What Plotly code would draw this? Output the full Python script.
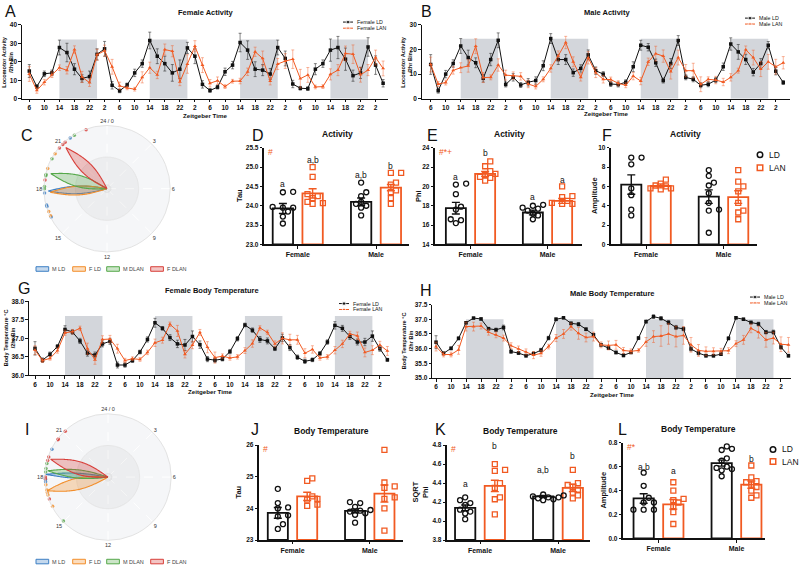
import numpy as np
import plotly.graph_objects as go

W, H = 800, 569
FONT = "Arial, 'Liberation Sans', Helvetica, sans-serif"
INK = "#111111"
ORANGE = "#f15a22"
ORANGE_ERR = "rgba(241,90,34,0.55)"
INK_ERR = "rgba(40,40,40,0.7)"
NIGHT = "#d3d6db"

# ---------------- time-series data (2-h bins, continuous ZT hours) ----------------
ZT = list(range(6, 101, 2))
ZT_TICKS = list(range(6, 99, 4))
ZT_LABELS = [str(t % 24) for t in ZT_TICKS]
DARK_ON = [14, 38, 62, 86]
DARK_OFF = [24, 48, 72, 96]

A_LD = [15, 6.6, 13.5, 14, 27.7, 25, 16, 11, 12, 24,
        27, 7.3, 4.3, 7.5, 14, 19, 31.5, 23, 19, 14,
        16, 27.5, 23, 7.8, 4.5, 6.3, 14.6, 18.2, 30.4, 26.3,
        16, 15.5, 13.4, 27.7, 21.8, 8, 5.7, 5.5, 16, 19,
        26.3, 27.7, 21.4, 12.5, 14, 28, 18.2, 8.4]
A_LD_ERR = [3.5, 1, 1.5, 1.5, 4, 5, 3, 2, 3, 3, 4, 2, 1, 1, 2, 2, 4.5, 4, 4, 4.5,
            5, 3, 4, 2, 1, 1, 2, 2, 5, 5, 4, 3, 3, 4, 4, 2, 1, 1, 3, 2,
            6, 6, 6, 3, 3, 5, 5, 2]
A_LAN = [13.4, 4.5, 9, 13, 16.8, 15.4, 26.6, 11.8, 8.7, 23.8,
         26, 17.3, 7, 5.9, 5.2, 11.6, 16.8, 12.9, 26.6, 25.7,
         9.1, 18.8, 28.4, 18.2, 8.4, 9.8, 6.6, 9.5, 9.6, 14.6,
         25.4, 21.8, 9.5, 18.8, 20.4, 21.4, 10.9, 12.9, 6.4, 6.6,
         13.2, 15.5, 24.5, 24.1, 13, 15.5, 22.3, 16.4]
A_LAN_ERR = [4, 1.5, 1.5, 1.5, 1.5, 2, 2, 3, 2, 3, 3, 4, 2, 1, 1, 3, 3, 2, 3, 3,
             2, 5, 3, 4, 2, 2, 1, 1, 1.5, 2, 2.5, 4, 2, 3, 4, 5, 5, 4, 1, 1,
             3, 3, 4, 5, 4, 3, 4, 4]

B_LD = [13.9, 3.3, 10, 14.3, 21.4, 16.7, 14.6, 8.3, 15.9, 23.7,
        5.8, 8.7, 5.6, 6.7, 7.4, 13.4, 24.4, 15.9, 15.9, 10.6,
        12.3, 17.8, 11.4, 10, 6, 5.8, 6.7, 13, 21.7, 20.9,
        14.6, 7.4, 14.3, 23.6, 8.7, 7.9, 5.5, 5.9, 7.6, 13,
        22.2, 19, 15.9, 10.8, 14.3, 21.7, 11.2, 6.6]
B_LD_ERR = [4, 1, 1.5, 1.5, 3, 3, 2, 1.5, 2.5, 3, 1, 1.5, 1, 1.5, 1.5, 2, 2, 2, 2, 1.5,
            1.5, 2, 1.5, 1, 1, 1, 1, 2, 2, 1.5, 1.5, 1, 2, 2, 1, 1, 1, 1, 1, 1.5,
            2.5, 3, 2, 1.5, 2, 1.5, 1.5, 0.8]
B_LAN = [13.9, 6, 6.6, 11.5, 12.6, 13.3, 21.3, 8.6, 8.7, 13.7,
         9.6, 9.4, 9.1, 6, 5, 7.9, 12.3, 17.4, 22.8, 15,
         8.7, 16.6, 10.6, 7.9, 7.8, 6.3, 5.5, 9.2, 7.2, 15,
         18.3, 17.3, 11, 16.7, 11.4, 11.4, 5.9, 7.9, 7.6, 6.8,
         8.7, 11.4, 19.9, 16.7, 12, 15, 13, 14.6]
B_LAN_ERR = [3, 1, 1, 1.5, 2, 2.5, 3, 2, 1, 2.5, 2, 1.5, 1.5, 1.5, 1, 1, 1.5, 2, 2.5, 2,
             1.5, 2.5, 2, 1.5, 1, 1, 1, 1.5, 1.5, 1.5, 3, 2.5, 3, 3, 2.5, 3, 3, 1, 1.5, 1.5,
             1.5, 1, 1.5, 3, 3, 3, 3, 2.5]

G_LD = [36.73, 36.41, 36.57, 36.78, 37.24, 37.17, 36.93, 36.6, 36.55, 36.85,
        36.92, 36.28, 36.28, 36.4, 36.63, 36.97, 37.42, 37.27, 37.02, 36.85,
        36.82, 37.05, 36.83, 36.44, 36.41, 36.44, 36.64, 36.99, 37.36, 37.22,
        36.97, 36.93, 36.72, 37.01, 36.75, 36.49, 36.38, 36.42, 36.59, 36.9,
        37.35, 37.27, 37.05, 36.9, 36.9, 37.06, 36.72, 36.42]
G_LD_ERR = [0.18, 0.06, 0.06, 0.05, 0.1, 0.06, 0.07, 0.08, 0.08, 0.08,
            0.08, 0.08, 0.06, 0.05, 0.05, 0.07, 0.12, 0.05, 0.08, 0.1,
            0.15, 0.15, 0.1, 0.07, 0.06, 0.05, 0.06, 0.06, 0.05, 0.06,
            0.08, 0.08, 0.05, 0.1, 0.08, 0.06, 0.06, 0.05, 0.05, 0.06,
            0.1, 0.08, 0.08, 0.08, 0.1, 0.14, 0.07, 0.04]
G_LAN = [36.68, 36.4, 36.46, 36.67, 37.15, 37.18, 37.27, 36.72, 36.42, 36.97,
         36.98, 36.72, 36.4, 36.45, 36.43, 36.62, 36.88, 36.95, 37.38, 37.2,
         36.57, 36.82, 37.16, 36.76, 36.48, 36.52, 36.47, 36.5, 36.67, 36.86,
         37.28, 37.16, 36.85, 37.0, 36.96, 36.96, 36.6, 36.7, 36.47, 36.5,
         36.68, 36.85, 37.12, 37.07, 36.62, 36.68, 36.82, 36.66]
G_LAN_ERR = [0.12, 0.05, 0.05, 0.07, 0.07, 0.06, 0.06, 0.15, 0.12, 0.1,
             0.1, 0.12, 0.06, 0.05, 0.05, 0.06, 0.1, 0.08, 0.06, 0.15,
             0.1, 0.1, 0.08, 0.15, 0.15, 0.06, 0.06, 0.06, 0.08, 0.1,
             0.06, 0.06, 0.08, 0.15, 0.15, 0.12, 0.12, 0.1, 0.06, 0.06,
             0.1, 0.1, 0.07, 0.1, 0.12, 0.12, 0.1, 0.12]

H_LD = [36.22, 35.84, 36.01, 36.35, 36.88, 37.04, 37.01, 36.68, 36.64, 36.72,
        35.9, 35.85, 35.76, 35.83, 35.95, 36.36, 37.0, 37.05, 36.86, 36.83,
        36.66, 36.47, 36.13, 36.02, 35.87, 35.77, 35.87, 36.36, 36.92, 37.09,
        37.03, 36.89, 36.72, 36.67, 35.99, 35.85, 35.76, 35.76, 35.81, 36.35,
        37.05, 37.0, 36.89, 36.84, 36.56, 36.56, 36.05, 35.76]
H_LD_ERR = [0.22, 0.05, 0.05, 0.05, 0.04, 0.03, 0.04, 0.04, 0.06, 0.08,
            0.06, 0.05, 0.05, 0.06, 0.06, 0.06, 0.05, 0.04, 0.05, 0.06,
            0.05, 0.05, 0.05, 0.05, 0.05, 0.05, 0.04, 0.05, 0.05, 0.06,
            0.06, 0.07, 0.07, 0.06, 0.07, 0.06, 0.05, 0.05, 0.04, 0.05,
            0.04, 0.04, 0.05, 0.06, 0.06, 0.07, 0.07, 0.05]
H_LAN = [36.07, 35.8, 35.8, 35.96, 36.75, 36.75, 36.77, 36.56, 36.47, 36.36,
         36.1, 35.99, 35.89, 35.78, 35.84, 36.07, 36.36, 36.5, 36.75, 36.52,
         36.38, 36.41, 36.13, 36.11, 36.13, 35.94, 35.91, 35.94, 36.23, 36.41,
         36.43, 36.5, 36.41, 36.45, 36.13, 35.94, 35.91, 35.91, 35.91, 35.93,
         36.17, 36.3, 36.69, 36.56, 36.3, 36.36, 36.15, 36.13]
H_LAN_ERR = [0.15, 0.08, 0.08, 0.15, 0.15, 0.15, 0.1, 0.1, 0.1, 0.1,
             0.1, 0.1, 0.1, 0.12, 0.1, 0.08, 0.12, 0.15, 0.12, 0.2,
             0.15, 0.15, 0.1, 0.15, 0.15, 0.1, 0.08, 0.06, 0.15, 0.2,
             0.35, 0.35, 0.35, 0.3, 0.25, 0.2, 0.15, 0.12, 0.1, 0.1,
             0.1, 0.15, 0.15, 0.2, 0.25, 0.2, 0.25, 0.25]

# ---------------- bar-panel data: [Female, Male] ----------------
SEXES = ["Female", "Male"]

D_LD_MEAN, D_LD_SEM = [23.93, 24.10], [0.13, 0.10]
D_LAN_MEAN, D_LAN_SEM = [24.32, 24.47], [0.12, 0.08]
D_F_LD = [24.35, 24.36, 23.97, 23.95, 23.85, 23.72, 23.54, 23.95]
D_F_LAN = [25.0, 24.75, 24.3, 24.25, 24.2, 24.1, 24.07, 24.05]
D_M_LD = [24.6, 24.35, 24.25, 24.1, 24.05, 24.0, 23.95, 23.75]
D_M_LAN = [24.85, 24.85, 24.6, 24.55, 24.4, 24.35, 24.2, 24.05]
D_LETTERS = ["a", "a,b", "a,b", "b"]

E_LD_MEAN, E_LD_SEM = [17.75, 17.3], [0.6, 0.25]
E_LAN_MEAN, E_LAN_SEM = [21.3, 18.5], [0.25, 0.25]
E_F_LD = [20.3, 20.2, 19.2, 17.9, 17.6, 16.6, 16.5, 16.2]
E_F_LAN = [22.6, 22.1, 21.6, 21.3, 21.2, 21.0, 20.9, 20.6]
E_M_LD = [18.1, 18.0, 17.8, 17.7, 17.5, 17.2, 17.0, 16.6]
E_M_LAN = [20.0, 19.0, 18.9, 18.5, 18.3, 18.3, 18.2, 18.2]
E_LETTERS = ["a", "b", "a", "a"]

F_LD_MEAN, F_LD_SEM = [6.2, 4.95], [1.0, 0.7]
F_LAN_MEAN, F_LAN_SEM = [6.05, 4.9], [0.2, 0.65]
F_F_LD = [9.0, 9.0, 8.3, 5.8, 5.1, 3.6, 3.0]
F_F_LAN = [6.7, 6.3, 6.1, 6.0, 5.8, 5.8, 5.7]
F_M_LD = [7.7, 7.1, 6.4, 6.1, 5.3, 4.3, 3.6, 3.5, 1.2]
F_M_LAN = [7.7, 6.5, 6.0, 5.5, 4.3, 3.5, 3.3, 2.6]

J_LD_MEAN, J_LD_SEM = [23.86, 23.92], [0.17, 0.06]
J_LAN_MEAN, J_LAN_SEM = [24.38, 24.47], [0.13, 0.27]
J_F_LD = [24.62, 24.17, 24.03, 24.0, 23.78, 23.75, 23.5, 23.35]
J_F_LAN = [24.95, 24.87, 24.38, 24.3, 24.28, 24.12, 24.08]
J_M_LD = [24.2, 24.17, 24.05, 23.95, 23.93, 23.9, 23.85, 23.8, 23.55]
J_M_LAN = [25.85, 24.82, 24.7, 24.65, 24.35, 24.3, 24.0, 23.3]

K_LD_MEAN, K_LD_SEM = [4.14, 4.26], [0.03, 0.01]
K_LAN_MEAN, K_LAN_SEM = [4.37, 4.35], [0.06, 0.04]
K_F_LD = [4.25, 4.22, 4.19, 4.17, 4.12, 4.1, 4.08, 4.02]
K_F_LAN = [4.6, 4.54, 4.53, 4.4, 4.35, 4.25, 4.23, 4.07]
K_M_LD = [4.28, 4.27, 4.26, 4.25, 4.25, 4.24, 4.23, 4.22]
K_M_LAN = [4.54, 4.40, 4.38, 4.36, 4.33, 4.30, 4.27, 4.24]
K_LETTERS = ["a", "b", "a,b", "b"]

L_LD_MEAN, L_LD_SEM = [0.334, 0.63], [0.04, 0.025]
L_LAN_MEAN, L_LAN_SEM = [0.285, 0.45], [0.04, 0.03]
L_F_LD = [0.55, 0.44, 0.34, 0.3, 0.3, 0.24, 0.24, 0.24]
L_F_LAN = [0.47, 0.4, 0.33, 0.32, 0.3, 0.27, 0.22, 0.12]
L_M_LD = [0.77, 0.75, 0.74, 0.67, 0.65, 0.6, 0.59, 0.58, 0.57, 0.52]
L_M_LAN = [0.61, 0.51, 0.48, 0.47, 0.45, 0.43, 0.4, 0.36, 0.34]
L_LETTERS = ["a,b", "a", "c", "b"]

# ---------------- circular phase data (hours) ----------------
GROUPS = ["M LD", "F LD", "M DLAN", "F DLAN"]
C_PHASE = [17.85, 17.76, 19.0, 21.0]
C_LENGTH = [0.93, 0.90, 0.92, 0.92]
C_SPREAD = [0.06, 0.07, 0.09, 0.09]
C_DOTS = [[21.6, 17.74, 17.0, 16.9, 16.2],
          [20.27, 19.25, 16.57, 16.3],
          [21.9, 19.9, 18.88, 18.8, 18.14, 18.0],
          [22.7, 21.2, 21.0, 20.7, 18.54]]
I_PHASE = [18.17, 17.16, 18.4, 19.15]
I_LENGTH = [0.99, 0.99, 0.96, 0.95]
I_SPREAD = [0.04, 0.09, 0.065, 0.10]
I_DOTS = [[19.76, 17.85, 17.72],
          [17.53, 17.2, 17.05, 16.9, 16.15],
          [18.83, 18.53, 18.31, 15.03],
          [21.13, 20.5, 20.45, 19.25, 19.03, 18.0, 17.9, 16.63]]
CLOCK_TICKS = [0, 3, 6, 9, 12, 15, 18, 21]
CLOCK_LABELS = ["24 / 0", "3", "6", "9", "12", "15", "18", "21"]

G_LINE = ["#3d7fc4", "#f28e2b", "#55a84a", "#d83f3a"]
G_FILL = ["rgba(61,127,196,0.30)", "rgba(242,142,43,0.30)",
          "rgba(85,168,74,0.30)", "rgba(216,63,58,0.30)"]


# ---------------- helpers ----------------
def fx(px):
    return px / W


def fy(py):
    return 1 - py / H


def sfx(n):
    return "" if n == 1 else str(n)


fig = go.Figure()
layout = {}
annotations = []
shapes = []

TICKFONT = dict(family=FONT, size=6.5, color=INK, weight="bold")


def base_axis():
    return dict(showline=True, linecolor=INK, linewidth=1.2, ticks="outside",
                ticklen=2.5, tickwidth=1, tickcolor=INK, showgrid=False,
                zeroline=False, tickfont=TICKFONT, fixedrange=True)


def text(x, y, s, size=7, bold=False, color=INK, xanchor="center", yanchor="middle",
         angle=0, xref="paper", yref="paper"):
    if xref == "paper":
        x = fx(x)
    if yref == "paper":
        y = fy(y)
    annotations.append(dict(x=x, y=y, xref=xref, yref=yref, text=("<b>%s</b>" % s) if bold else s,
                            showarrow=False, xanchor=xanchor, yanchor=yanchor, textangle=angle,
                            borderpad=0,
                            font=dict(family=FONT, size=size, color=color)))


# overlay axis in pixel units for legend glyphs
layout["xaxis20"] = dict(domain=[0, 1], range=[0, W], visible=False, fixedrange=True, anchor="y20")
layout["yaxis20"] = dict(domain=[0, 1], range=[H, 0], visible=False, fixedrange=True, anchor="x20")


def legend_glyph(x, y, color, symbol, size, line=True, lw=1.5):
    if line:
        fig.add_trace(go.Scatter(x=[x - 5, x, x + 5], y=[y, y, y], mode="lines+markers",
                                 line=dict(color=color, width=1),
                                 marker=dict(symbol=symbol, size=[0, size, 0], color=color),
                                 xaxis="x20", yaxis="y20", showlegend=False, hoverinfo="skip",
                                 cliponaxis=False))
    else:
        fig.add_trace(go.Scatter(x=[x], y=[y], mode="markers",
                                 marker=dict(symbol=symbol, size=size, color=color,
                                             line=dict(color=color, width=lw)),
                                 xaxis="x20", yaxis="y20", showlegend=False, hoverinfo="skip",
                                 cliponaxis=False))


# ---------------- time-series panels ----------------
def ts_panel(n, xdom, ydom, xr, yr, ytv, yfmt, ld, ld_err, lan, lan_err, night_top,
             title, title_xy, ytitle, ytitle_x, xtitle_y, leg, leg_labels, letter, letter_xy):
    xa = dict(base_axis(), domain=[fx(xdom[0]), fx(xdom[1])], range=xr, anchor="y" + sfx(n),
              tickmode="array", tickvals=ZT_TICKS, ticktext=ZT_LABELS)
    ya = dict(base_axis(), domain=[fy(ydom[1]), fy(ydom[0])], range=yr, anchor="x" + sfx(n),
              tickmode="array", tickvals=ytv)
    if yfmt:
        ya["tickformat"] = yfmt
    layout["xaxis" + sfx(n)] = xa
    layout["yaxis" + sfx(n)] = ya
    for on, off in zip(DARK_ON, DARK_OFF):
        shapes.append(dict(type="rect", xref="x" + sfx(n), yref="y" + sfx(n), x0=on, x1=off,
                           y0=yr[0], y1=night_top, fillcolor=NIGHT, line=dict(width=0),
                           layer="below"))
    fig.add_trace(go.Scatter(x=ZT, y=ld, mode="lines+markers", line=dict(color=INK, width=1),
                             marker=dict(symbol="square", size=3.5, color=INK),
                             error_y=dict(type="data", array=ld_err, color=INK_ERR,
                                          thickness=0.8, width=1.5),
                             xaxis="x" + sfx(n), yaxis="y" + sfx(n), showlegend=False,
                             cliponaxis=False))
    fig.add_trace(go.Scatter(x=ZT, y=lan, mode="lines+markers", line=dict(color=ORANGE, width=1),
                             marker=dict(symbol="triangle-up", size=3.5, color=ORANGE),
                             error_y=dict(type="data", array=lan_err, color=ORANGE_ERR,
                                          thickness=0.8, width=1.5),
                             xaxis="x" + sfx(n), yaxis="y" + sfx(n), showlegend=False,
                             cliponaxis=False))
    text(title_xy[0], title_xy[1], title, size=7.5, bold=True)
    text(ytitle_x, (ydom[0] + ydom[1]) / 2, ytitle, size=5.6, bold=True, angle=-90)
    text((xdom[0] + xdom[1]) / 2, xtitle_y, "Zeitgeber Time", size=6.2, bold=True)
    lx, ly1, ly2 = leg
    legend_glyph(lx, ly1, INK, "square", 3.5)
    legend_glyph(lx, ly2, ORANGE, "triangle-up", 4)
    text(lx + 8, ly1, leg_labels[0], size=5.3, xanchor="left")
    text(lx + 8, ly2, leg_labels[1], size=5.3, xanchor="left")
    text(letter_xy[0], letter_xy[1], letter, size=16)


ts_panel(1, [22, 388], [21, 96], [4.06, 101.3], [0, 40], [0, 10, 20, 30, 40], None,
         A_LD, A_LD_ERR, A_LAN, A_LAN_ERR, 32, "Female Activity", (206, 9),
         "Locomotor Activity<br>/2hr Bin", 8, 112.5, (348, 18.3, 24.5),
         ["Female LD", "Female LAN"], "A", (10, 8))
ts_panel(2, [421.7, 790], [21, 96], [3.6, 101.8], [0, 30], [0, 10, 20, 30], None,
         B_LD, B_LD_ERR, B_LAN, B_LAN_ERR, 24.3, "Male Activity", (607, 9),
         "Locomotor Activity<br>/2hr Bin", 407, 111, (750, 14.3, 20.3),
         ["Male LD", "Male LAN"], "B", (427, 8))
ts_panel(6, [29, 390], [301, 376], [4.4, 100.7], [36, 38], [36, 36.5, 37, 37.5, 38], ".1f",
         G_LD, G_LD_ERR, G_LAN, G_LAN_ERR, 37.6, "Female Body Temperature", (212, 290),
         "Body Temperature °C<br>/2hr Bin", 9, 392.5, (344, 303.3, 309.3),
         ["Female LD", "Female LAN"], "G", (24, 288.5))
ts_panel(7, [432.3, 790.7], [304.3, 378.7], [5.0, 100.6], [35, 37.5],
         [35, 35.5, 36, 36.5, 37, 37.5], ".1f",
         H_LD, H_LD_ERR, H_LAN, H_LAN_ERR, 37.0, "Male Body Temperature", (612, 293),
         "Body Temperature °C<br>/2hr Bin", 407, 395.5, (755, 296.7, 302.7),
         ["Male LD", "Male LAN"], "H", (426, 290))


# ---------------- bar panels ----------------
OFF = 0.19
BW = 0.26


def swarm_offsets(vals, px_per_val, px_per_x, diam=5.4):
    order = sorted(range(len(vals)), key=lambda i: vals[i])
    placed = []
    offs = [0.0] * len(vals)
    for i in order:
        chosen = 0.0
        for k in [0, 1, -1, 2, -2, 3, -3, 4, -4]:
            o = k * diam * 0.95
            ok = True
            for (po, pv) in placed:
                if (o - po) ** 2 + ((vals[i] - pv) * px_per_val) ** 2 < diam ** 2:
                    ok = False
                    break
            if ok:
                chosen = o
                break
        offs[i] = chosen
        placed.append((chosen, vals[i]))
    return [o / px_per_x for o in offs]


def bar_panel(n, xdom, center, unit, ydom, yr, ytv, yfmt, ld_mean, ld_sem, lan_mean, lan_sem,
              pts, letters, letter_y, mark, title, title_x, ytitle, ytitle_x, letter, letter_xy):
    xr = [(xdom[0] - center) / unit, (xdom[1] - center) / unit]
    xa = dict(base_axis(), domain=[fx(xdom[0]), fx(xdom[1])], range=xr, anchor="y" + sfx(n),
              tickmode="array", tickvals=[0, 1], ticktext=SEXES,
              tickfont=dict(family=FONT, size=7, color=INK, weight="bold"), linewidth=1.5)
    ya = dict(base_axis(), domain=[fy(ydom[1]), fy(ydom[0])], range=yr, anchor="x" + sfx(n),
              tickmode="array", tickvals=ytv, linewidth=1.5)
    if yfmt:
        ya["tickformat"] = yfmt
    layout["xaxis" + sfx(n)] = xa
    layout["yaxis" + sfx(n)] = ya
    xs = "x" + sfx(n)
    ys = "y" + sfx(n)
    ld_x = [0 - OFF, 1 - OFF]
    lan_x = [0 + OFF, 1 + OFF]
    base = [yr[0], yr[0]]
    fig.add_trace(go.Bar(x=ld_x, y=[m - yr[0] for m in ld_mean], base=base, width=BW,
                         marker=dict(color="white", line=dict(color=INK, width=1.8)),
                         error_y=dict(type="data", array=ld_sem, color=INK, thickness=1.4, width=4),
                         xaxis=xs, yaxis=ys, showlegend=False))
    fig.add_trace(go.Bar(x=lan_x, y=[m - yr[0] for m in lan_mean], base=base, width=BW,
                         marker=dict(color="white", line=dict(color=ORANGE, width=1.8)),
                         error_y=dict(type="data", array=lan_sem, color=ORANGE, thickness=1.4,
                                      width=4),
                         xaxis=xs, yaxis=ys, showlegend=False))
    px_per_val = (ydom[1] - ydom[0]) / (yr[1] - yr[0])
    centers = [ld_x[0], lan_x[0], ld_x[1], lan_x[1]]
    for k, vals in enumerate(pts):
        offs = swarm_offsets(vals, px_per_val, unit)
        is_ld = k % 2 == 0
        fig.add_trace(go.Scatter(x=[centers[k] + o for o in offs], y=vals, mode="markers",
                                 marker=dict(symbol="circle-open" if is_ld else "square-open",
                                             size=5, color=INK if is_ld else ORANGE,
                                             line=dict(width=1.3, color=INK if is_ld else ORANGE)),
                                 xaxis=xs, yaxis=ys, showlegend=False, cliponaxis=False))
    if letters:
        for k, (s, yv) in enumerate(zip(letters, letter_y)):
            text(centers[k], yv, s, size=8.5, xref=xs, yref=ys)
    if mark:
        text(xdom[0] + 3, ydom[0] + 4, mark, size=8.5, color=ORANGE, xanchor="left")
    text(title_x, ydom[0] - 14.5, title, size=8.5, bold=True)
    text(ytitle_x, (ydom[0] + ydom[1]) / 2, ytitle, size=7.5, bold=True, angle=-90)
    text(letter_xy[0], letter_xy[1], letter, size=16)


ROW1 = [145.7, 243.3]
bar_panel(3, [264, 409], 297.75, 78.25, ROW1, [23.0, 25.5], [23.0, 23.5, 24.0, 24.5, 25.0, 25.5],
          ".1f", D_LD_MEAN, D_LD_SEM, D_LAN_MEAN, D_LAN_SEM,
          [D_F_LD, D_F_LAN, D_M_LD, D_M_LAN], D_LETTERS, [24.56, 25.19, 24.79, 25.02], "#",
          "Activity", 337, "Tau", 239, "D", (258, 133))
bar_panel(4, [435, 582], 470.5, 77, ROW1, [14, 24], [14, 16, 18, 20, 22, 24], None,
          E_LD_MEAN, E_LD_SEM, E_LAN_MEAN, E_LAN_SEM,
          [E_F_LD, E_F_LAN, E_M_LD, E_M_LAN], E_LETTERS, [20.93, 23.45, 18.95, 20.65], "#*+",
          "Activity", 510, "Phi", 418, "E", (432, 133))
bar_panel(5, [611, 757], 646, 77.5, ROW1, [0, 10], [0, 2, 4, 6, 8, 10], None,
          F_LD_MEAN, F_LD_SEM, F_LAN_MEAN, F_LAN_SEM,
          [F_F_LD, F_F_LAN, F_M_LD, F_M_LAN], None, None, None,
          "Activity", 685, "Amplitude", 594, "F", (607, 133))
bar_panel(8, [259, 403], 292.5, 77.25, [446.7, 542.7], [23, 26], [23, 24, 25, 26], None,
          J_LD_MEAN, J_LD_SEM, J_LAN_MEAN, J_LAN_SEM,
          [J_F_LD, J_F_LAN, J_M_LD, J_M_LAN], None, None, "#",
          "Body Temperature", 331, "Tau", 239, "J", (255, 431))
bar_panel(9, [447, 590], 480, 78, [446.7, 542.7], [3.8, 4.8], [3.8, 4.0, 4.2, 4.4, 4.6, 4.8],
          ".1f", K_LD_MEAN, K_LD_SEM, K_LAN_MEAN, K_LAN_SEM,
          [K_F_LD, K_F_LAN, K_M_LD, K_M_LAN], K_LETTERS, [4.39, 4.79, 4.54, 4.69], "#",
          "Body Temperature", 520, "SQRT<br>Phi", 421, "K", (440, 431))
bar_panel(10, [623, 765], 658.5, 78, [444.3, 541], [0, 0.8], [0, 0.2, 0.4, 0.6, 0.8], ".1f",
          L_LD_MEAN, L_LD_SEM, L_LAN_MEAN, L_LAN_SEM,
          [L_F_LD, L_F_LAN, L_M_LD, L_M_LAN], L_LETTERS, [0.60, 0.56, 0.81, 0.665], "#*",
          "Body Temperature", 698, "Amplitude", 604, "L", (622, 431))

# LD / LAN legends of F and L
for (lx, ly1, ly2) in [(760, 152.7, 165.7), (773, 451, 463.3)]:
    legend_glyph(lx, ly1, INK, "circle-open", 5.5, line=False)
    legend_glyph(lx, ly2, ORANGE, "square-open", 5.5, line=False)
    text(lx + 8, ly1, "LD", size=8.5, xanchor="left")
    text(lx + 8, ly2, "LAN", size=8.5, xanchor="left", color=INK)


# ---------------- circular (Rayleigh-style) panels ----------------
def petal(phase_h, length, spread):
    s = np.linspace(0, 1, 60)
    along = length * s
    perp = spread * np.sin(np.pi * s)
    a = np.concatenate([along, along[::-1]])
    p = np.concatenate([perp, -perp[::-1]])
    r = np.hypot(a, p)
    th = phase_h * 15 + np.degrees(np.arctan2(p, a))
    return r, th


def polar_panel(name, cx, cy, rad, phases, lengths, spreads, dots, legend_y, letter, letter_xy):
    layout[name] = dict(
        domain=dict(x=[fx(cx - rad), fx(cx + rad)], y=[fy(cy + rad), fy(cy - rad)]),
        bgcolor="#f5f6f8",
        angularaxis=dict(rotation=90, direction="clockwise", tickmode="array",
                         tickvals=[h * 15 for h in CLOCK_TICKS], ticktext=CLOCK_LABELS,
                         tickfont=dict(family=FONT, size=5.5, color="#333333"),
                         linecolor="#e3e3e3", linewidth=1, gridcolor="white", griddash="dash",
                         ticks="", showgrid=True),
        radialaxis=dict(visible=False, range=[0, 1]),
    )
    ring = np.linspace(0, 360, 181)
    fig.add_trace(go.Scatterpolar(r=[0.5] * len(ring), theta=ring, mode="lines", fill="toself",
                                  fillcolor="rgba(0,0,0,0.035)",
                                  line=dict(color="#e2e2e2", width=0.8), subplot=name,
                                  showlegend=False, hoverinfo="skip"))
    fig.add_trace(go.Scatterpolar(r=[0.06] * len(ring), theta=ring, mode="lines", fill="toself",
                                  fillcolor="rgba(0,0,0,0.03)",
                                  line=dict(color="#e2e2e2", width=0.8), subplot=name,
                                  showlegend=False, hoverinfo="skip"))
    for g in range(4):
        r, th = petal(phases[g], lengths[g], spreads[g])
        fig.add_trace(go.Scatterpolar(r=r, theta=th, mode="lines", fill="toself",
                                      fillcolor=G_FILL[g], line=dict(color=G_LINE[g], width=1.1),
                                      subplot=name, showlegend=False, hoverinfo="skip"))
    for g in range(4):
        fig.add_trace(go.Scatterpolar(r=[0.99] * len(dots[g]), theta=[h * 15 for h in dots[g]],
                                      mode="markers",
                                      marker=dict(size=3.5, color=G_LINE[g], opacity=0.8),
                                      subplot=name, showlegend=False, hoverinfo="skip"))
    box_x = [36, 72.7, 106.7, 150.7]
    for g in range(4):
        shapes.append(dict(type="rect", xref="paper", yref="paper",
                           x0=fx(box_x[g]), x1=fx(box_x[g] + 12.7),
                           y0=fy(legend_y + 2.3), y1=fy(legend_y - 2.3),
                           fillcolor=G_FILL[g], line=dict(color=G_LINE[g], width=1)))
        text(box_x[g] + 15, legend_y, GROUPS[g], size=5.5, xanchor="left", color="#444444")
    text(letter_xy[0], letter_xy[1], letter, size=16)


polar_panel("polar", 107, 187, 64, C_PHASE, C_LENGTH, C_SPREAD, C_DOTS, 268.3, "C", (27, 133))
polar_panel("polar2", 108, 479, 64, I_PHASE, I_LENGTH, I_SPREAD, I_DOTS, 564.5, "I", (27, 431))

layout.update(dict(
    width=W, height=H, margin=dict(l=0, r=0, t=0, b=0),
    paper_bgcolor="white", plot_bgcolor="rgba(0,0,0,0)",
    showlegend=False, barmode="overlay",
    font=dict(family=FONT, color=INK),
    annotations=annotations, shapes=shapes,
))
fig.update_layout(**layout)
fig.write_html("out.html", config={"displayModeBar": False},
               post_script="document.body.style.margin='0';document.body.style.overflow='hidden';")
